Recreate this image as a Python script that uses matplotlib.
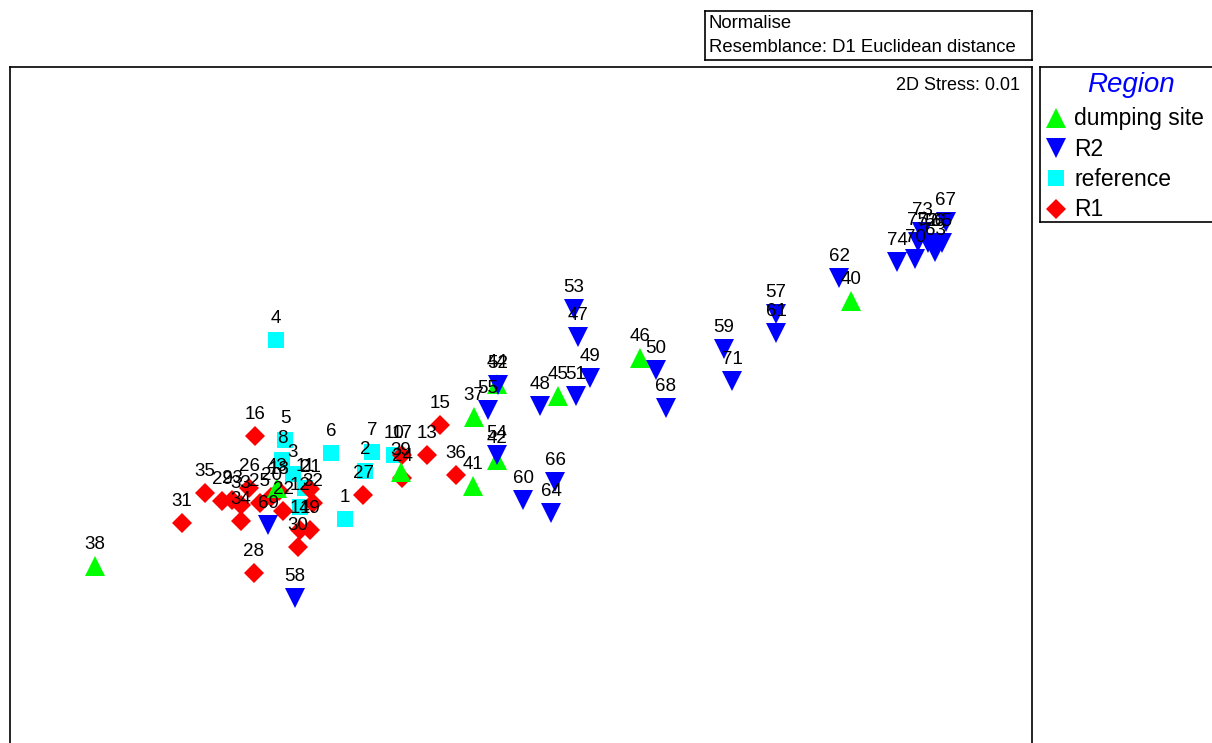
import matplotlib
matplotlib.use("Agg")
import matplotlib.pyplot as plt

plt.rcParams['font.family'] = ['Liberation Sans', 'DejaVu Sans']

W, H = 1212, 743

# NMDS ordination coordinates (in plot units: x right, y down)
groups = ["dumping site", "R2", "reference", "R1"]
colors = {"dumping site": "#00ff00", "R2": "#0000ff", "reference": "#00ffff", "R1": "#ff0000"}
markers = {"dumping site": "^", "R2": "v", "reference": "s", "R1": "D"}
msizes = {"dumping site": 14.5, "R2": 14.5, "reference": 12, "R1": 10.5}

ref_labels = ["1", "2", "3", "4", "5", "6", "7", "8", "10", "11", "12"]
ref_x = [345, 365, 293, 276, 285, 331, 372, 282, 394, 305, 300]
ref_y = [519, 471, 474, 340, 440, 453, 452, 460, 455, 488, 507]

r1_labels = ["13", "14", "15", "16", "17", "18", "19", "20", "21", "22", "23", "24",
             "25", "26", "27", "28", "29", "30", "31", "32", "33", "34", "35", "36"]
r1_x = [427, 300, 440, 255, 402, 279, 310, 271, 310, 283, 232, 402,
        260, 249, 363, 254, 222, 298, 182, 313, 241, 241, 205, 456]
r1_y = [455, 530, 425, 436, 455, 491, 530, 497, 489, 511, 500, 478,
        503, 488, 495, 573, 501, 547, 523, 503, 505, 521, 493, 475]

dump_labels = ["37", "38", "39", "40", "41", "42", "43", "44", "45", "46"]
dump_x = [474, 95, 401, 851, 473, 497, 277, 497, 558, 640]
dump_y = [417, 566, 472, 301, 486, 460, 488, 384, 396, 358]

r2_labels = ["47", "48", "49", "50", "51", "52", "53", "54", "55", "56", "57", "58",
             "59", "60", "61", "62", "63", "64", "65", "66", "67", "68", "69", "70",
             "71", "72", "73", "74", "75"]
r2_x = [578, 540, 590, 656, 576, 498, 574, 497, 488, 935, 776, 295,
        724, 523, 776, 839, 935, 551, 942, 555, 946, 666, 268, 915,
        732, 928, 922, 897, 918]
r2_y = [337, 406, 378, 370, 396, 385, 309, 455, 410, 243, 314, 598,
        349, 500, 333, 278, 252, 513, 243, 482, 222, 408, 525, 259,
        381, 243, 232, 262, 242]

data = {
    "reference": (ref_x, ref_y, ref_labels),
    "R1": (r1_x, r1_y, r1_labels),
    "dumping site": (dump_x, dump_y, dump_labels),
    "R2": (r2_x, r2_y, r2_labels),
}

fig = plt.figure(figsize=(W / 100, H / 100), dpi=100)

def px_axes(x0, y0, x1, y1):
    return fig.add_axes([x0 / W, 1 - y1 / H, (x1 - x0) / W, (y1 - y0) / H])

# main plot
ax = px_axes(10, 67, 1032, 748)
ax.set_xlim(10, 1032)
ax.set_ylim(748, 67)
ax.set_xticks([])
ax.set_yticks([])
for s in ax.spines.values():
    s.set_linewidth(1.2)
    s.set_color("black")

draw_order = ["reference", "R1", "dumping site", "R2"]
for g in draw_order:
    xs, ys, labs = data[g]
    ax.plot(xs, ys, linestyle="none", marker=markers[g], color=colors[g],
            markersize=msizes[g], markeredgewidth=0, zorder=3)
for g in draw_order:
    xs, ys, labs = data[g]
    for x, y, l in zip(xs, ys, labs):
        ax.annotate(l, (x, y), xytext=(0, 9.5), textcoords="offset points",
                    ha="center", va="bottom", fontsize=13.5, color="black", zorder=4)

ax.text(1020, 85, "2D Stress: 0.01", ha="right", va="center", fontsize=13)

# top info box
bx = px_axes(705, 11, 1032, 60)
bx.set_xlim(705, 1032)
bx.set_ylim(60, 11)
bx.set_xticks([])
bx.set_yticks([])
for s in bx.spines.values():
    s.set_linewidth(1.2)
bx.text(709, 23.5, "Normalise", ha="left", va="center", fontsize=13.3)
bx.text(709, 48, "Resemblance: D1 Euclidean distance", ha="left", va="center", fontsize=13.3)

# legend box
lx = px_axes(1040, 67, 1216, 222)
lx.set_xlim(1040, 1216)
lx.set_ylim(222, 67)
lx.set_xticks([])
lx.set_yticks([])
for s in lx.spines.values():
    s.set_linewidth(1.2)
lx.text(1131, 85, "Region", ha="center", va="center", fontsize=20,
        style="italic", color="#0000ff")
leg_y = [118, 148, 178, 209]
for g, yy in zip(groups, leg_y):
    lx.plot([1056], [yy], linestyle="none", marker=markers[g], color=colors[g],
            markersize=msizes[g], markeredgewidth=0)
    lx.text(1074, yy + 1, g, ha="left", va="center", fontsize=16.5)

fig.savefig("out.png", dpi=100)
